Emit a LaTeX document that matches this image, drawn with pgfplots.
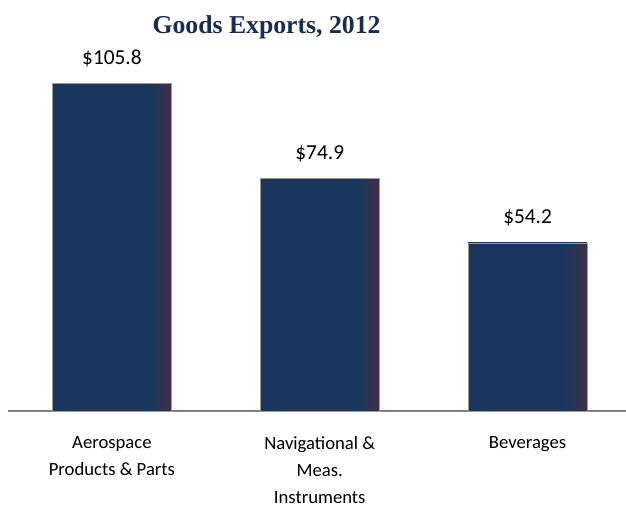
\documentclass[border=0pt]{standalone}
\usepackage{fontspec}
\setmainfont{Carlito}
\newfontfamily\titlefont{Liberation Serif}
\usepackage{pgfplots}
\pgfplotsset{compat=1.18}
\definecolor{barnavy}{RGB}{27,54,93}
\definecolor{barpurp}{RGB}{72,44,66}
\definecolor{titleblue}{RGB}{25,45,80}
\pgfdeclarehorizontalshading{barshade}{100bp}{color(0bp)=(barnavy); color(66bp)=(barnavy); color(71bp)=(barnavy!60!barpurp); color(75bp)=(barpurp); color(100bp)=(barpurp)}
\begin{document}
\begin{tikzpicture}
\path[use as bounding box] (0,0) rectangle (469.5pt,379.5pt);
\begin{axis}[
  at={(6pt,71.25pt)}, anchor=south west,
  scale only axis, width=463.5pt, height=279pt,
  xmin=-0.5, xmax=2.4736, ymin=0, ymax=120,
  ybar, bar width=89.25pt, bar shift=0pt,
  hide y axis,
  axis x line*=bottom,
  x axis line style={draw=gray, line width=1.1pt, -},
  xtick={0,1,2}, xtick style={draw=none},
  xticklabels={{Aerospace\\Products \& Parts},{Navigational \&\\Meas.\\Instruments},{Beverages}},
  xticklabel style={font=\fontsize{14}{20.25}\selectfont, align=center, anchor=north, yshift=-11pt},
  point meta=explicit symbolic,
  nodes near coords,
  every node near coord/.append style={font=\fontsize{16}{19}\selectfont, anchor=base, yshift=14.25pt},
  clip=false,
]
\addplot[draw=gray!80, line width=0.5pt, shading=barshade] coordinates {(0,105.8) [\$105.8]};
\addplot[draw=gray!80, line width=0.5pt, shading=barshade] coordinates {(1,74.9) [\$74.9]};
\addplot[draw=gray!80, line width=0.5pt, shading=barshade] coordinates {(2,54.2) [\$54.2]};
\end{axis}
\node[anchor=base, font=\titlefont\bfseries\fontsize{19.3}{22}\selectfont, text=titleblue] at (199.9pt,354pt) {Goods Exports, 2012};
\end{tikzpicture}
\end{document}
